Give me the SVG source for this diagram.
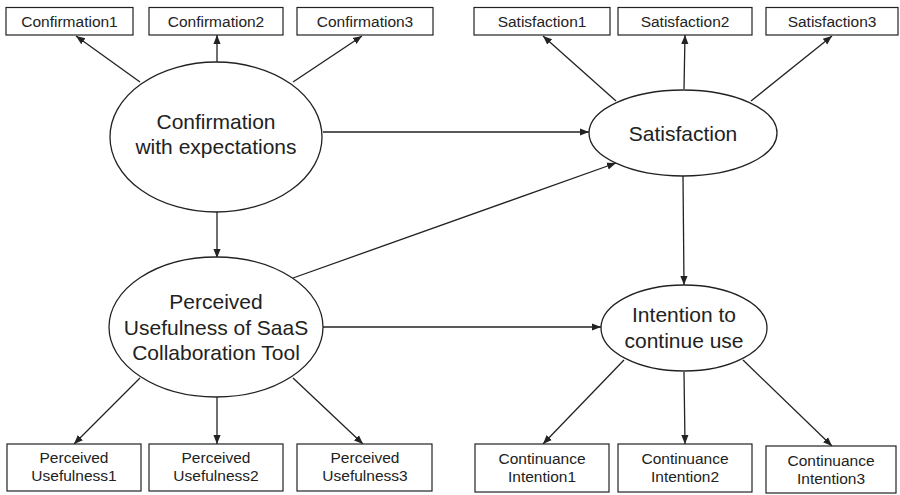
<svg xmlns="http://www.w3.org/2000/svg" width="900" height="495" viewBox="0 0 900 495">
<style>
.box{fill:#fff;stroke:#222;stroke-width:1.2}
.ell{fill:#fff;stroke:#222;stroke-width:1.3}
.bt{font-family:"Liberation Sans",Arial,sans-serif;font-size:15.5px;fill:#222;text-anchor:middle}
.et{font-family:"Liberation Sans",Arial,sans-serif;font-size:21px;fill:#222;text-anchor:middle}
.c line{stroke:#222;stroke-width:1.3;marker-end:url(#ah)}
</style>
<defs>
<marker id="ah" viewBox="0 0 10 10" refX="10" refY="5" markerWidth="9" markerHeight="9" markerUnits="userSpaceOnUse" orient="auto">
<path d="M0,1 L10,5 L0,9 z" fill="#222"/>
</marker>
</defs>
<rect width="900" height="495" fill="#fff"/>
<g class="c" id="connectors">
<line x1="140" y1="82" x2="76" y2="36"/>
<line x1="217" y1="62" x2="217" y2="35"/>
<line x1="293" y1="82" x2="362" y2="36"/>
<line x1="616" y1="101" x2="543" y2="36"/>
<line x1="684" y1="89" x2="685" y2="35"/>
<line x1="751" y1="101" x2="832" y2="36"/>
<line x1="323" y1="132" x2="589" y2="132"/>
<line x1="217" y1="212" x2="217" y2="258"/>
<line x1="293" y1="278" x2="616" y2="163"/>
<line x1="323" y1="327" x2="601" y2="327"/>
<line x1="683" y1="176" x2="684" y2="285"/>
<line x1="140" y1="378" x2="74" y2="444"/>
<line x1="217" y1="397" x2="217" y2="444"/>
<line x1="293" y1="378" x2="363" y2="444"/>
<line x1="624" y1="360" x2="543" y2="444"/>
<line x1="684" y1="372" x2="685" y2="444"/>
<line x1="743" y1="360" x2="832" y2="446"/>
</g>
<g id="confirmation1"><rect class="box" x="6" y="7.5" width="127" height="27.5"/><text class="bt" x="69.5" y="27">Confirmation1</text></g>
<g id="confirmation2"><rect class="box" x="149" y="7.5" width="134" height="27.5"/><text class="bt" x="216" y="27">Confirmation2</text></g>
<g id="confirmation3"><rect class="box" x="297" y="7.5" width="136" height="27.5"/><text class="bt" x="365" y="27">Confirmation3</text></g>
<g id="satisfaction1"><rect class="box" x="474" y="7.5" width="136" height="27.5"/><text class="bt" x="542" y="27">Satisfaction1</text></g>
<g id="satisfaction2"><rect class="box" x="618" y="7.5" width="134" height="27.5"/><text class="bt" x="685" y="27">Satisfaction2</text></g>
<g id="satisfaction3"><rect class="box" x="766" y="7.5" width="132" height="27.5"/><text class="bt" x="832" y="27">Satisfaction3</text></g>
<g id="confirmation"><ellipse class="ell" cx="216" cy="137" rx="106" ry="75"/><text class="et" x="216" y="129">Confirmation</text><text class="et" x="216" y="154">with expectations</text></g>
<g id="satisfaction"><ellipse class="ell" cx="683" cy="133" rx="94" ry="43"/><text class="et" x="683" y="141">Satisfaction</text></g>
<g id="perceived-usefulness"><ellipse class="ell" cx="216" cy="327" rx="107" ry="70"/><text class="et" x="216" y="309">Perceived</text><text class="et" x="216" y="335">Usefulness of SaaS</text><text class="et" x="216" y="360">Collaboration Tool</text></g>
<g id="intention"><ellipse class="ell" cx="684" cy="328" rx="83" ry="43"/><text class="et" x="684" y="322">Intention to</text><text class="et" x="684" y="348">continue use</text></g>
<g id="pu1"><rect class="box" x="7" y="444" width="134" height="47"/><text class="bt" x="74" y="463">Perceived</text><text class="bt" x="74" y="481">Usefulness1</text></g>
<g id="pu2"><rect class="box" x="149" y="444" width="134" height="47"/><text class="bt" x="216" y="463">Perceived</text><text class="bt" x="216" y="481">Usefulness2</text></g>
<g id="pu3"><rect class="box" x="297" y="444" width="135" height="47"/><text class="bt" x="365" y="463">Perceived</text><text class="bt" x="365" y="481">Usefulness3</text></g>
<g id="ci1"><rect class="box" x="475" y="444" width="134" height="48"/><text class="bt" x="542" y="464">Continuance</text><text class="bt" x="542" y="482">Intention1</text></g>
<g id="ci2"><rect class="box" x="618" y="444" width="134" height="48"/><text class="bt" x="685" y="464">Continuance</text><text class="bt" x="685" y="482">Intention2</text></g>
<g id="ci3"><rect class="box" x="766" y="446" width="130" height="47"/><text class="bt" x="831" y="466">Continuance</text><text class="bt" x="831" y="484">Intention3</text></g>
</svg>
